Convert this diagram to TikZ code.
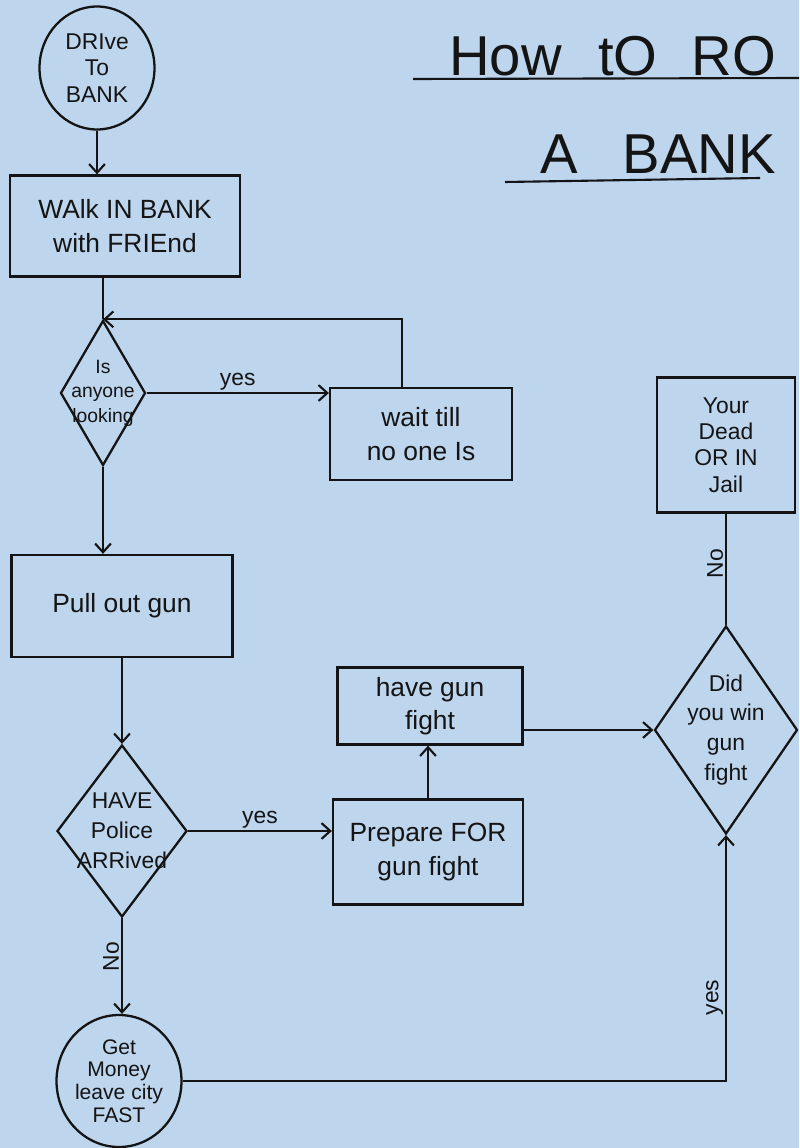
\documentclass[tikz,border=0pt]{standalone}
\usepackage{fontspec}
\setmainfont{Liberation Sans}
\usetikzlibrary{shapes.geometric,arrows.meta}
\definecolor{paper}{RGB}{189,213,237}
\definecolor{ink}{RGB}{20,20,20}
\begin{document}
\begin{tikzpicture}[x=0.02cm,y=-0.02cm,
  every node/.style={text=ink},
  flow/.style={draw=ink, line width=1.3pt, align=center, inner sep=2pt},
  box/.style={flow, rectangle, font=\fontsize{15}{19}\selectfont},
  oval/.style={flow, ellipse, font=\fontsize{13}{15}\selectfont},
  dec/.style={draw=ink, line width=1.3pt, diamond, inner sep=0pt},
  dtext/.style={align=center, font=\fontsize{11}{14}\selectfont},
  link/.style={draw=ink, line width=1.2pt},
  arr/.style={link, -{Straight Barb[length=5pt,width=9pt]}},
  lbl/.style={font=\fontsize{13}{13}\selectfont, inner sep=1pt},
  ttl/.style={font=\fontsize{32}{32}\selectfont, inner sep=0pt}
]
\fill[paper] (0,0) rectangle (799,1148);
\useasboundingbox (0,0) rectangle (799,1148);

% title
\node[ttl, anchor=base west] (t1) at (449,76) {How\hspace{0.65em}tO\hspace{0.6em}RO};
\node[ttl, anchor=base west] (t2) at (540,174) {A\hspace{0.8em}BANK};
\coordinate (u1a) at (413,79); \coordinate (u1b) at (799,78);
\coordinate (u2a) at (505,182); \coordinate (u2b) at (760,178);
\draw[link] (u1a) -- (u1b);
\draw[link] (u2a) -- (u2b);

% nodes
\node[oval, minimum width=2.3cm, minimum height=2.46cm] (start) at (97,68) {DRIve\\To\\BANK};
\node[box, minimum width=4.6cm, minimum height=2.02cm] (walk) at (125,226) {WAlk IN BANK\\with FRIEnd};
\node[dec, minimum width=1.7cm, minimum height=2.9cm,
  label={[dtext]center:{Is\\anyone\\looking}}] (d1) at (103,393) {};
\node[box, minimum width=3.64cm, minimum height=1.84cm] (wait) at (421,434) {wait till\\no one Is};
\node[box, minimum width=4.42cm, minimum height=2.04cm] (pull) at (122,606) {Pull out gun};
\node[dec, minimum width=2.6cm, minimum height=3.44cm,
  label={[dtext, font=\fontsize{13}{17}\selectfont]center:{HAVE\\Police\\ARRived}}] (d2) at (122,831) {};
\node[box, minimum width=3.8cm, minimum height=2.1cm] (prep) at (428,852) {Prepare FOR\\gun fight};
\node[box, minimum width=3.7cm, minimum height=1.54cm] (have) at (430,706) {have gun\\fight};
\node[dec, minimum width=2.86cm, minimum height=4.16cm,
  label={[dtext, font=\fontsize{13}{17}\selectfont]center:{Did\\you win\\gun\\fight}}] (d3) at (726,730) {};
\node[box, font=\fontsize{13}{15}\selectfont, minimum width=2.76cm, minimum height=2.7cm] (dead) at (726,445) {Your\\Dead\\OR IN\\Jail};
\node[oval, font=\fontsize{12}{13}\selectfont, inner sep=0pt, minimum width=2.5cm, minimum height=2.64cm] (get) at (119,1081) {Get\\Money\\leave city\\FAST};

% connectors
\draw[arr] (start.south) -- (start.south |- walk.north);
\draw[link] (d1.north |- walk.south) -- (d1.north);
\draw[arr] ([xshift=-0.38cm]wait.north) |- (d1.north);
\draw[arr] (d1.east) -- node[lbl, above] (ly1) {yes} (d1.east -| wait.west);
\draw[arr] (d1.south) -- (d1.south |- pull.north);
\draw[arr] (pull.south -| d2.north) -- (d2.north);
\draw[arr] (d2.east) -- node[lbl, above] (ly2) {yes} (d2.east -| prep.west);
\draw[arr] (prep.north) -- (prep.north |- have.south);
\draw[arr] (d3.west -| have.east) -- (d3.west);
\draw[link] (dead.south) -- node[lbl, rotate=90, above, pos=0.45] (ln1) {No} (d3.north);
\draw[arr] (d2.south) -- node[lbl, rotate=90, above, pos=0.4] (ln2) {No} (d2.south |- get.north);
\draw[arr] (get.east) -| node[lbl, rotate=90, above, pos=0.67] (ly3) {yes} (d3.south);
\end{tikzpicture}
\end{document}
